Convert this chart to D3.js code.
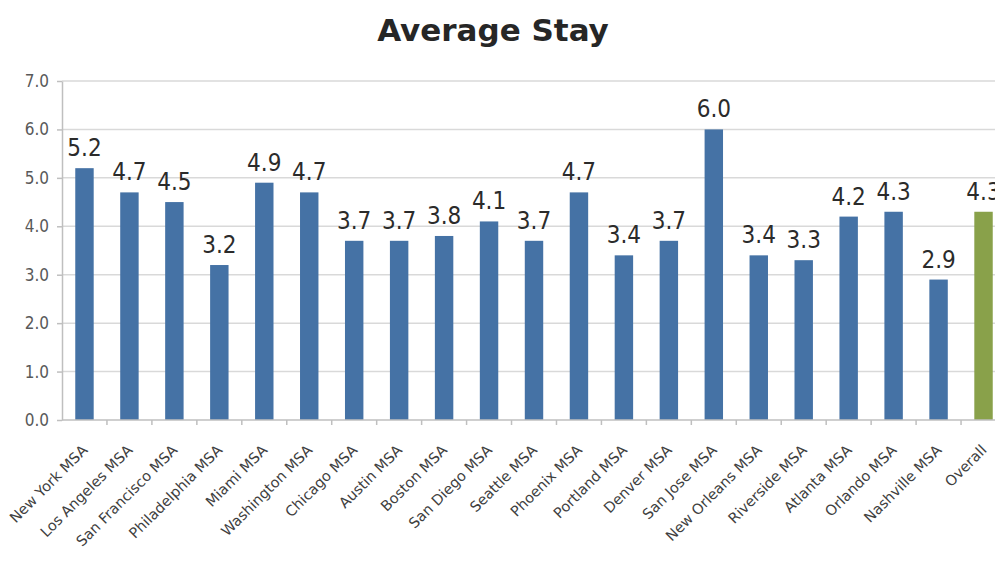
<!DOCTYPE html>
<html>
<head>
<meta charset="utf-8">
<script src="https://cdn.jsdelivr.net/npm/d3@7"></script>
<style>
  html, body { margin: 0; padding: 0; background: #fff; }
  svg { display: block; }
</style>
</head>
<body>
<svg id="chart" width="995" height="565"></svg>
<script>
// Average length of stay by metro area
const categories = [
  "New York MSA", "Los Angeles MSA", "San Francisco MSA", "Philadelphia MSA",
  "Miami MSA", "Washington MSA", "Chicago MSA", "Austin MSA", "Boston MSA",
  "San Diego MSA", "Seattle MSA", "Phoenix MSA", "Portland MSA", "Denver MSA",
  "San Jose MSA", "New Orleans MSA", "Riverside MSA", "Atlanta MSA",
  "Orlando MSA", "Nashville MSA", "Overall"
];
const stayValues = [
  5.2, 4.7, 4.5, 3.2, 4.9, 4.7, 3.7, 3.7, 3.8, 4.1,
  3.7, 4.7, 3.4, 3.7, 6.0, 3.4, 3.3, 4.2, 4.3, 2.9, 4.3
];
const yTicks = [0, 1, 2, 3, 4, 5, 6, 7];
const titleText = "Average Stay";

const svg = d3.select("#chart");
const plot = { left: 62, top: 81, bottom: 420, right: 1006 };

const x = d3.scaleBand()
  .domain(categories)
  .range([plot.left, plot.right])
  .paddingInner(0.59)
  .paddingOuter(0.295);

const y = d3.scaleLinear()
  .domain([0, 7])
  .range([plot.bottom, plot.top]);

// Title
svg.append("text")
  .attr("x", 493)
  .attr("y", 41)
  .attr("text-anchor", "middle")
  .style("font-family", "'DejaVu Sans', sans-serif")
  .style("font-weight", "bold")
  .style("font-size", "31px")
  .style("fill", "#262626")
  .text(titleText);

// Horizontal gridlines
svg.append("g")
  .selectAll("line")
  .data(yTicks.filter(d => d > 0))
  .join("line")
  .attr("x1", plot.left)
  .attr("x2", 995)
  .attr("y1", d => y(d))
  .attr("y2", d => y(d))
  .attr("stroke", "#d9d9d9")
  .attr("stroke-width", 1.5);

// Y axis
const yAxis = svg.append("g")
  .attr("transform", `translate(${plot.left},0)`)
  .call(d3.axisLeft(y).tickValues(yTicks).tickFormat(d3.format(".1f")).tickSize(5).tickSizeOuter(0));
yAxis.select(".domain").attr("stroke", "#bfbfbf").attr("stroke-width", 1.5);
yAxis.selectAll(".tick line").attr("stroke", "#bfbfbf").attr("stroke-width", 1.5);
yAxis.selectAll(".tick text")
  .attr("x", -13)
  .style("font-family", "'Liberation Sans Narrow', 'DejaVu Sans Condensed', sans-serif")
  .style("font-size", "17px")
  .style("fill", "#595959");

// Bars
svg.append("g")
  .selectAll("rect")
  .data(categories)
  .join("rect")
  .attr("x", d => x(d))
  .attr("width", x.bandwidth())
  .attr("y", (d, i) => y(stayValues[i]))
  .attr("height", (d, i) => y(0) - y(stayValues[i]))
  .attr("fill", d => d === "Overall" ? "#89a14a" : "#4572a5");

// Value labels
svg.append("g")
  .selectAll("text")
  .data(categories)
  .join("text")
  .attr("x", d => x(d) + x.bandwidth() / 2)
  .attr("y", (d, i) => y(stayValues[i]) - 12)
  .attr("text-anchor", "middle")
  .style("font-family", "'Liberation Sans Narrow', 'DejaVu Sans Condensed', sans-serif")
  .style("font-size", "24px")
  .style("fill", "#2b2b2b")
  .text((d, i) => stayValues[i].toFixed(1));

// X axis with ticks between categories
const xAxisG = svg.append("g").attr("transform", `translate(0,${plot.bottom})`);
xAxisG.append("line")
  .attr("x1", plot.left).attr("x2", 995)
  .attr("stroke", "#bfbfbf").attr("stroke-width", 1.5);
const step = x.step();
xAxisG.selectAll("line.sep")
  .data(categories)
  .join("line")
  .attr("class", "sep")
  .attr("x1", d => x(d) - x.padding() * step / 2 + step)
  .attr("x2", d => x(d) - x.padding() * step / 2 + step)
  .attr("y1", 0).attr("y2", 5)
  .attr("stroke", "#bfbfbf").attr("stroke-width", 1.5);

// Rotated category labels
xAxisG.selectAll("text")
  .data(categories)
  .join("text")
  .attr("transform", d => `translate(${x(d) + x.bandwidth() / 2 + 4},${31}) rotate(-45)`)
  .attr("text-anchor", "end")
  .style("font-family", "'DejaVu Sans', sans-serif")
  .style("font-size", "14.5px")
  .style("fill", "#404040")
  .text(d => d);
</script>
</body>
</html>
